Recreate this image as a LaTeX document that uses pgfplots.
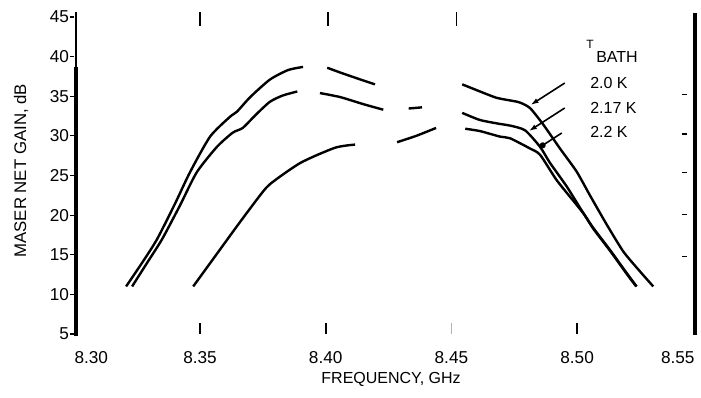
\documentclass[border=0pt]{standalone}
\usepackage{fontspec}
\setmainfont{Liberation Sans}
\usepackage{pgfplots}
\pgfplotsset{compat=1.18}
\usetikzlibrary{arrows.meta}
\begin{document}
\begin{tikzpicture}
\begin{axis}[
  name=ax,
  scale only axis,
  width=314.25pt, height=158.5pt,
  xmin=8.30, xmax=8.55, ymin=5, ymax=45,
  axis line style={draw=none},
  clip=false,
  unbounded coords=jump,
  xtick={8.30,8.35,8.40,8.45,8.50,8.55},
  xticklabels={\makebox[0pt]{\hspace{17pt}8.30}, 8.35, 8.40, 8.45, 8.50, \makebox[0pt]{8.55\hspace{25pt}}},
  xtick pos=bottom,
  x tick style={draw=none},
  xticklabel style={font=\fontsize{8.6}{10}\selectfont, anchor=north, inner sep=0pt, yshift=-6.5pt},
  ytick={5,10,...,45},
  ytick pos=left,
  tick align=outside,
  major tick length=2pt,
  y tick style={line width=0.6pt, black},
  yticklabel style={font=\fontsize{8.6}{10}\selectfont, anchor=east, inner sep=0pt, xshift=-0.5pt},
  /pgf/number format/assume math mode=true,
]
% 2.0 K
\addplot[black, line width=1.2pt, smooth, tension=0.4, no marks] table {
x y
8.3206 11
8.3270 14.0
8.3329 16.95
8.3400 21.4
8.3460 25.4
8.3540 29.9
8.3619 32.4
8.3647 33.05
8.3700 34.9
8.3778 37.1
8.3850 38.3
8.3910 38.7
8.3960 nan
8.4006 38.6
8.4057 38.0
8.4130 37.2
8.4196 36.5
8.4300 nan
8.4543 36.5
8.4614 35.6
8.4680 34.8
8.4746 34.4
8.4773 34.2
8.4813 33.5
8.4866 31.4
8.4932 28.4
8.4998 25.5
8.5051 22.5
8.5118 18.8
8.5184 15.4
8.5250 12.9
8.5303 11.0
};
% 2.17 K
\addplot[black, line width=1.2pt, smooth, tension=0.4, no marks] table {
x y
8.3230 11
8.3290 14.0
8.3349 16.95
8.3420 21.2
8.3487 25.4
8.3567 28.6
8.3630 30.4
8.3670 31.0
8.3720 32.6
8.3778 34.3
8.3830 35.1
8.3887 35.6
8.3930 nan
8.3977 35.4
8.4057 34.9
8.4150 34.0
8.4229 33.3
8.4280 nan
8.4330 33.45
8.4383 33.6
8.4450 nan
8.4543 32.9
8.4614 32.0
8.4694 31.5
8.4733 31.3
8.4793 30.7
8.4853 28.6
8.4892 26.6
8.4959 23.6
8.5018 20.6
8.5064 18.4
8.5131 15.6
8.5197 12.7
8.5237 11.0
};
% 2.2 K
\addplot[black, line width=1.2pt, smooth, tension=0.4, no marks] table {
x y
8.3473 11
8.3560 14.8
8.3647 18.6
8.3727 22.0
8.3778 23.9
8.3900 26.6
8.4037 28.5
8.4117 28.9
8.4200 nan
8.4284 29.2
8.4360 30.0
8.4439 31.0
8.4500 nan
8.4555 30.9
8.4614 30.6
8.4694 29.9
8.4733 29.7
8.4813 28.4
8.4853 27.6
8.4919 24.4
8.4998 21.3
8.5030 20.0
8.5064 18.3
8.5131 15.5
8.5197 12.6
8.5235 11.0
};
% frame lines
\draw[line width=0.8pt] (axis cs:8.3007,4.7) -- (axis cs:8.3007,45.6);
\draw[line width=1.8pt] (axis cs:8.3007,4.7) -- (axis cs:8.3007,38.7);
\draw[line width=1.8pt] (axis cs:8.5469,4.9) -- (axis cs:8.5469,45.5);
% right-side dashes
\draw[line width=0.8pt] (axis cs:8.5419,35.2) -- (axis cs:8.5439,35.2);
\draw[line width=0.8pt] (axis cs:8.5419,30.2) -- (axis cs:8.5439,30.2);
\draw[line width=0.8pt] (axis cs:8.5419,25.4) -- (axis cs:8.5439,25.4);
\draw[line width=0.8pt] (axis cs:8.5419,20.1) -- (axis cs:8.5439,20.1);
\draw[line width=0.8pt] (axis cs:8.5419,14.8) -- (axis cs:8.5439,14.8);
% top ticks
\draw[line width=0.8pt] (axis cs:8.350,43.9) -- (axis cs:8.350,45.6);
\draw[line width=0.8pt] (axis cs:8.401,43.9) -- (axis cs:8.401,45.6);
\draw[line width=0.8pt] (axis cs:8.452,43.9) -- (axis cs:8.452,45.6);
% bottom ticks
\draw[line width=0.8pt] (axis cs:8.350,5.0) -- (axis cs:8.350,6.4);
\draw[line width=0.8pt] (axis cs:8.400,5.0) -- (axis cs:8.400,6.4);
\draw[line width=0.6pt, gray!60] (axis cs:8.450,5.0) -- (axis cs:8.450,6.4);
\draw[line width=0.8pt] (axis cs:8.500,5.0) -- (axis cs:8.500,6.4);
% labels
\node[rotate=90, font=\fontsize{8.4}{10}\selectfont] at (axis cs:8.2788,25.6) {MASER NET GAIN, dB};
\node[font=\fontsize{8}{10}\selectfont] at (axis cs:8.426,-0.68) {FREQUENCY, GHz};
% annotation
\node[anchor=base west, inner sep=0pt, font=\fontsize{8}{9}\selectfont] at (axis cs:8.5035,39.32) {\raisebox{7pt}{\fontsize{6}{7}\selectfont T}\,BATH};
\node[anchor=west, inner sep=0pt, font=\fontsize{8}{9}\selectfont] at (axis cs:8.5051,36.67) {2.0 K};
\node[anchor=west, inner sep=0pt, font=\fontsize{8}{9}\selectfont] at (axis cs:8.5051,33.52) {2.17 K};
\node[anchor=west, inner sep=0pt, font=\fontsize{8}{9}\selectfont] at (axis cs:8.5051,30.49) {2.2 K};
\draw[line width=0.8pt, -{Latex[length=4pt,width=2.6pt]}] (axis cs:8.4951,36.67) -- (axis cs:8.4815,33.9);
\draw[line width=0.8pt, -{Latex[length=4pt,width=2.6pt]}] (axis cs:8.4951,33.52) -- (axis cs:8.4808,30.6);
\draw[line width=0.8pt, -{Circle[length=3pt]}] (axis cs:8.4939,30.36) -- (axis cs:8.4853,28.6);
\end{axis}
\pgfresetboundingbox
\path[use as bounding box] ([xshift=-37.15pt,yshift=-32pt]ax.south west) rectangle ([xshift=-0.9pt,yshift=8.5pt]ax.north east);
\end{tikzpicture}
\end{document}
